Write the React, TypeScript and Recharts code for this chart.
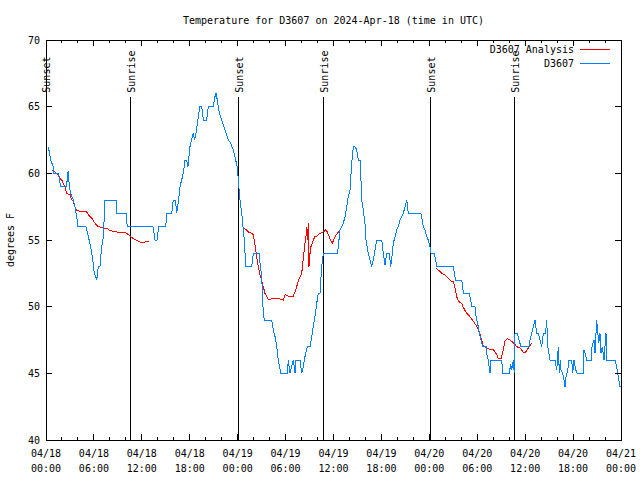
import { LineChart, Line, XAxis, YAxis, ReferenceLine, ReferenceArea } from 'recharts';

// hours since 04/18 00:00 UTC
const blueHours = [0.29, 0.6, 0.9, 1.0, 1.54, 1.84, 2.59, 2.7, 2.79, 2.92, 3.1, 3.42, 3.63, 3.84, 4.0, 5.01, 5.3, 5.6, 5.85, 6.05,
  6.35, 6.55, 6.76, 6.97, 7.18, 7.39, 8.77, 8.85, 10.02, 10.18, 13.4, 13.65, 13.9, 14.1, 15.0, 15.1, 15.74, 15.94, 16.2, 16.37,
  16.6, 16.78, 17.19, 17.41, 17.6, 17.78, 18.03, 18.2, 18.44, 18.6, 18.78, 19.07, 19.28, 19.5, 19.7, 20.12, 20.32, 20.95, 21.16, 21.29,
  21.45, 21.7, 22.0, 22.29, 22.54, 22.83, 23.13, 23.45, 23.75, 23.95, 24.08, 24.29, 24.51, 24.71, 24.83, 25.01, 25.76, 25.96, 26.71, 26.8,
  27.01, 27.21, 27.34, 28.26, 28.46, 28.68, 28.89, 29.09, 29.39, 30.22, 30.34, 30.55, 30.97, 31.18, 31.31, 31.81, 32.02, 32.22, 32.43, 32.72,
  33.06, 33.27, 33.47, 33.68, 33.9, 34.1, 34.31, 34.52, 34.72, 36.48, 36.6, 36.81, 37.23, 37.44, 37.65, 37.85, 38.07, 38.28, 38.4, 38.48,
  38.69, 38.91, 39.11, 39.35, 39.44, 39.53, 39.73, 39.94, 40.07, 40.36, 40.57, 40.78, 40.98, 41.2, 41.41, 42.04, 42.24, 42.45, 42.66, 42.99,
  43.16, 43.36, 43.49, 43.7, 43.91, 44.11, 44.33, 44.74, 45.17, 45.37, 46.92, 47.04, 47.25, 47.46, 47.67, 47.87, 48.08, 48.21, 48.62, 48.8,
  48.92, 51.0, 51.13, 51.3, 52.05, 52.18, 52.25, 53.01, 53.18, 53.31, 53.72, 53.85, 54.13, 54.26, 54.47, 54.68, 55.1, 55.18, 55.38, 55.6,
  55.72, 57.06, 57.19, 58.01, 58.19, 58.32, 58.51, 58.64, 58.73, 59.02, 59.35, 59.48, 60.52, 60.61, 60.82, 61.02, 61.23, 61.44, 61.65, 61.86,
  62.07, 62.27, 62.55, 62.7, 62.82, 62.9, 63.11, 63.74, 63.95, 64.05, 64.15, 64.28, 64.4, 64.49, 64.7, 64.86, 64.99, 65.11, 65.33, 65.49,
  65.83, 65.95, 66.12, 66.33, 66.53, 67.28, 67.37, 67.5, 67.71, 68.25, 68.37, 68.62, 68.75, 68.87, 68.96, 69.1, 69.21, 69.37, 69.5, 69.65,
  69.78, 69.87, 70.12, 70.21, 71.25, 71.46, 71.66, 71.87, 72.0];
const blueTemps = [62, 61, 60.5, 60, 60, 59, 59, 60, 60.2, 59, 58.5, 58, 57.5, 56.75, 56, 56, 55.25, 54.5, 53.5, 52.5,
  52, 53, 53, 54.5, 55.25, 58, 58, 57, 57, 56, 56, 55, 55, 56, 56, 57, 57, 58, 58, 57,
  58, 59, 60, 61, 61, 60.5, 62, 62.5, 63, 62.5, 63, 64.25, 65, 65, 64, 64, 65, 65, 65.75, 66,
  65.5, 64.5, 64, 63.5, 63, 62.5, 62.25, 61.75, 61, 60.5, 59.5, 58, 57, 55.75, 55, 53, 53, 54, 54, 53.25,
  52.25, 49.5, 49, 49, 48.25, 47.75, 47, 46, 45, 45, 46, 45, 46, 45, 46, 46, 45, 45.5, 46.25, 47,
  47, 47.75, 48.5, 49.25, 50.25, 51, 51, 53, 54, 54, 54.5, 55.75, 56.25, 56.75, 57.5, 58.25, 58.75, 60.75, 61.5, 62,
  62, 61.75, 61, 61, 59.5, 58, 57.25, 56.25, 55, 54, 53.5, 53, 53.5, 54.25, 55, 55, 54, 53.1, 54, 54,
  53, 54, 54.75, 55.25, 55.75, 56, 56.5, 57, 58, 57, 57, 56.75, 56, 55.75, 55.25, 55, 54.5, 54, 54, 53.5,
  53, 53, 52.5, 52, 52, 51.5, 51, 51, 50.5, 50, 50, 49.25, 48.5, 48, 47.5, 47, 47, 46.5, 46, 45,
  46, 46, 45, 45, 45.7, 45.25, 46, 45, 48, 48, 47.25, 47, 47, 47.5, 48, 48.5, 49, 48, 48, 47.5,
  47, 48, 48, 49, 47, 46.75, 46, 46, 45.25, 46, 47, 45, 46, 45.25, 45, 44.5, 44, 44.7, 45.25, 46,
  46, 45, 46, 45.25, 45, 45, 46.75, 46.5, 46, 46, 47, 47.5, 46.5, 48, 49, 48, 47.25, 48, 46.5, 47,
  46.5, 46, 48, 46, 46, 45.5, 44.75, 44, 44];

const analysisHours = [0.79, 1.13, 1.54, 1.75, 1.97, 2.17, 2.38, 2.59, 3.01, 3.22, 3.42, 3.63, 3.84, 5.1, 5.3, 5.72, 6.14, 6.55, 7.18, 7.6,
  8.01, 8.85, 9.89, 10.31, 10.93, 11.56, 11.98, 12.4, 12.94, 13.5,
  24.71, 25.13, 25.33, 25.76, 25.96, 26.17, 26.38, 26.58, 26.8, 27.21, 27.42, 27.64, 27.84, 28.46, 29.09, 29.51, 29.72, 29.93, 30.34, 30.97,
  31.18, 31.39, 31.59, 31.81, 32.02, 32.22, 32.43, 32.55, 32.64, 32.72, 32.85, 32.93, 33.06, 33.18, 33.47, 33.68, 33.9, 34.31, 34.72, 35.02,
  35.22, 35.56, 35.85, 36.19, 36.6, 36.81, 40,
  48.84, 49.12, 49.55, 49.96, 50.38, 50.8, 51.0, 51.21, 51.43, 51.63, 52.05, 52.25, 52.68, 53.09, 53.51, 53.93, 54.13, 54.35, 54.56, 54.76,
  54.97, 55.18, 55.6, 56.01, 56.22, 56.44, 56.64, 56.97, 57.26, 57.47, 57.76, 58.11, 58.51, 58.94, 59.35, 59.76, 60.06, 60.39, 60.61, 60.82];
const analysisTemps = [60.25, 60.1, 59.9, 59.6, 59.5, 59.25, 59, 58.5, 58.4, 58, 57.9, 57.5, 57.2, 57.1, 56.9, 56.65, 56.25, 56, 55.9, 55.9,
  55.7, 55.6, 55.6, 55.4, 55.1, 54.9, 54.8, 54.85, 54.9, null,
  55.9, 55.75, 55.6, 55.5, 55.4, 54.6, 53.75, 53, 52.4, 51.5, 51, 50.75, 50.55, 50.6, 50.6, 50.55, 50.5, 50.9, 50.8, 50.8,
  51.1, 51.5, 51.9, 52.25, 52.5, 53.6, 54.75, 55.25, 56, 55, 56.25, 53, 54, 54.5, 55, 55.25, 55.3, 55.5, 55.6, 55.75,
  55.6, 55.1, 54.75, 55.25, 55.6, 55.75, null,
  52.9, 52.75, 52.5, 52.4, 52.1, 51.9, 51.9, 51.4, 50.75, 50.4, 50.25, 49.95, 49.5, 49.25, 48.9, 48.55, 48.25, 47.9, 47.5, 47.05,
  47, 46.9, 46.8, 46.8, 46.6, 46.4, 46.1, 46.1, 46.75, 47.4, 47.6, 47.5, 47.3, 47, 46.9, 46.6, 46.6, 46.9, 47.1, 47.25];

const sunEventHours = [0, 10.64, 24.08, 34.72, 48.15, 58.64];
const sunEventNames = ['Sunset', 'Sunrise', 'Sunset', 'Sunrise', 'Sunset', 'Sunrise'];

const majorTickHours = [0, 6, 12, 18, 24, 30, 36, 42, 48, 54, 60, 66, 72];
const majorTickDates = ['04/18', '04/18', '04/18', '04/18', '04/19', '04/19', '04/19', '04/19', '04/20', '04/20', '04/20', '04/20', '04/21'];
const majorTickTimes = ['00:00', '06:00', '12:00', '18:00', '00:00', '06:00', '12:00', '18:00', '00:00', '06:00', '12:00', '18:00', '00:00'];
const minorTickHours = [2, 4, 8, 10, 14, 16, 20, 22, 26, 28, 32, 34, 38, 40, 44, 46, 50, 52, 56, 58, 62, 64, 68, 70];
const yTicks = [40, 45, 50, 55, 60, 65, 70];

const TITLE = 'Temperature for D3607 on 2024-Apr-18 (time in UTC)';
const BLUE = '#0080ff';
const RED = '#ff0000';
const FONT = '"DejaVu Sans Mono", "Liberation Mono", monospace';
const FS = 10;

const W = 640, H = 480;
const M = { top: 40, right: 19, bottom: 0, left: 6 };
const Y_AXIS_W = 40, X_AXIS_H = 40;
const PLOT_W = W - M.left - M.right - Y_AXIS_W;
const PLOT_H = H - M.top - M.bottom - X_AXIS_H;

const blueData = blueHours.map((t, i) => ({ t, v: blueTemps[i] }));
const analysisData = analysisHours.map((t, i) => ({ t, v: analysisTemps[i] }));
const allXTicks = [...majorTickHours, ...minorTickHours].sort((a, b) => a - b);

function XTick({ x, y, payload }: any) {
  const idx = majorTickHours.indexOf(payload.value);
  const len = idx >= 0 ? 6 : 3;
  return (
    <g shapeRendering="crispEdges">
      <line x1={x} x2={x} y1={y} y2={y - len} stroke="#000" />
      <line x1={x} x2={x} y1={y - PLOT_H} y2={y - PLOT_H + len} stroke="#000" />
      {idx >= 0 && (
        <text x={x} textAnchor="middle" fontFamily={FONT} fontSize={FS} fill="#000">
          <tspan x={x} y={y + 17}>{majorTickDates[idx]}</tspan>
          <tspan x={x} y={y + 32}>{majorTickTimes[idx]}</tspan>
        </text>
      )}
    </g>
  );
}

function YTick({ x, y, payload }: any) {
  return (
    <g shapeRendering="crispEdges">
      <line x1={x} x2={x + 6} y1={y} y2={y} stroke="#000" />
      <line x1={x + PLOT_W} x2={x + PLOT_W - 6} y1={y} y2={y} stroke="#000" />
      <text x={x - 6} y={y} dy="0.35em" textAnchor="end" fontFamily={FONT} fontSize={FS} fill="#000">
        {payload.value}
      </text>
    </g>
  );
}

function sunLabel(name: string) {
  return ({ viewBox }: any) => {
    const cx = viewBox.x + 1;
    const by = viewBox.y - 4;
    return (
      <text x={cx} y={by} transform={`rotate(-90 ${cx} ${by})`} dominantBaseline="central"
        fontFamily={FONT} fontSize={FS} fill="#000">{name}</text>
    );
  };
}

export default function App() {
  const plotLeft = M.left + Y_AXIS_W;
  const plotRight = plotLeft + PLOT_W;
  return (
    <div style={{ position: 'absolute', left: 0, top: 0, width: W, height: H, background: '#fff' }}>
      <LineChart width={W} height={H} margin={M}>
        <XAxis dataKey="t" type="number" domain={[0, 72]} ticks={allXTicks} interval={0} allowDataOverflow
          axisLine={false} tickLine={false} tickSize={0} tickMargin={0} height={X_AXIS_H} tick={<XTick />} />
        <YAxis type="number" domain={[40, 70]} ticks={yTicks} interval={0} allowDataOverflow
          axisLine={false} tickLine={false} tickSize={0} tickMargin={0} width={Y_AXIS_W} tick={<YTick />} />
        <ReferenceArea x1={0} x2={72} y1={40} y2={70} fill="none" stroke="#000" strokeWidth={1}
          ifOverflow="visible" shapeRendering="crispEdges" />
        {sunEventHours.map((h, i) => (
          <ReferenceLine key={i} segment={[{ x: h, y: 65.75 }, { x: h, y: 40 }]} stroke="#000" strokeWidth={1}
            ifOverflow="visible" shapeRendering="crispEdges" label={sunLabel(sunEventNames[i])} />
        ))}
        <Line data={analysisData} dataKey="v" type="linear" stroke={RED} strokeWidth={1} dot={false}
          connectNulls={false} isAnimationActive={false} shapeRendering="crispEdges" />
        <Line data={blueData} dataKey="v" type="linear" stroke={BLUE} strokeWidth={1} dot={false}
          isAnimationActive={false} shapeRendering="crispEdges" />
      </LineChart>
      <svg width={W} height={H} style={{ position: 'absolute', left: 0, top: 0, pointerEvents: 'none' }}>
        <text x={(plotLeft + plotRight) / 2} y={24} textAnchor="middle" fontFamily={FONT} fontSize={FS} fill="#000">{TITLE}</text>
        <text x={10} y={240} transform="rotate(-90 10 240)" textAnchor="middle" dominantBaseline="central"
          fontFamily={FONT} fontSize={FS} fill="#000">degrees F</text>
        <text x={574} y={49} dy="0.35em" textAnchor="end" fontFamily={FONT} fontSize={FS} fill="#000">D3607 Analysis</text>
        <line x1={580} x2={610} y1={49.5} y2={49.5} stroke={RED} strokeWidth={1} />
        <text x={574} y={63} dy="0.35em" textAnchor="end" fontFamily={FONT} fontSize={FS} fill="#000">D3607</text>
        <line x1={580} x2={610} y1={63.5} y2={63.5} stroke={BLUE} strokeWidth={1} />
      </svg>
    </div>
  );
}
